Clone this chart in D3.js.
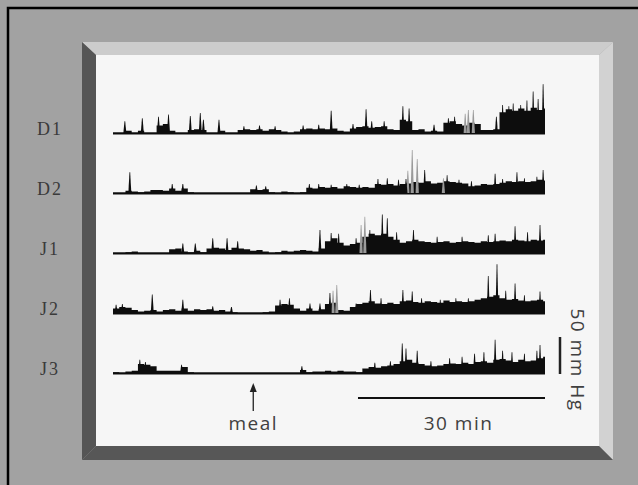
<!DOCTYPE html>
<html lang="en">
  <head>
    <meta charset="utf-8">
    <title>Manometry traces</title>
    <script src="https://d3js.org/d3.v7.min.js"></script>
    <style>
      body { margin: 0; background: #a2a2a2; }
      .lbl { font-family: "Liberation Serif", serif; font-size: 18px; fill: #3a3a3a; letter-spacing: 2px; }
      .note { font-family: "Open Sans", sans-serif; font-size: 19px; fill: #404040; letter-spacing: 1.5px; }
    </style>
  </head>
  <body>
    <svg id="chart" width="638" height="485"></svg>
<script>

// channels, top to bottom
var channels = ["D1", "D2", "J1", "J2", "J3"];

// recording length (min), meal time (min), scale bars
var totalMin = 69.3;
var mealMin = 22.5;
var timeBarMin = 30;
var pressBarMmHg = 50;

// dense activity envelope, mm Hg, one value per minute (0..69)
var D1_band = [0,0,3,0,3,0,0,10,12,3,0,0,4,5,4,0,0,3,0,0,4,5,4,5,3,5,4,2,0,2,5,6,5,6,5,6,3,2,6,8,9,7,8,9,5,4,18,16,4,5,2,3,2,14,16,12,10,14,12,4,4,5,28,32,30,33,30,34,31,33];
var D2_band = [0,0,3,2,1,2,4,4,3,6,3,6,1,0,0,0,0,0,0,0,0,0,5,4,5,1,0,2,1,0,1,7,6,8,7,8,6,9,8,7,8,7,12,11,12,10,12,13,15,14,16,13,14,16,15,14,13,9,10,12,11,12,14,16,15,16,15,16,18,17];
var J1_band = [0,0,1,2,0,0,0,0,0,5,6,2,1,3,1,6,7,6,4,7,6,5,3,4,2,0,1,3,2,3,4,3,2,6,16,20,14,10,12,14,22,26,24,26,22,18,14,16,18,16,15,14,15,16,14,15,16,15,14,16,15,16,17,16,18,17,16,18,17,18];
var J2_band = [6,8,7,4,2,3,4,2,4,5,3,6,3,5,4,5,3,4,2,1,0,0,0,0,1,2,10,12,11,6,3,6,3,5,12,14,4,3,8,12,14,16,13,12,14,12,16,17,15,14,16,15,14,17,15,16,15,16,18,20,22,24,20,18,19,17,16,17,18,16];
var J3_band = [1,0,2,3,12,11,9,3,3,3,3,8,1,0,0,0,0,0,0,0,0,0,0,0,0,0,0,0,0,0,4,1,2,2,3,2,3,2,2,1,6,8,7,9,10,12,16,18,14,12,10,9,10,12,13,12,14,12,15,16,14,18,19,17,15,18,16,17,20,22];

// single contractions [minute, mm Hg]
var D1_peaks = [[1.9,16],[4.7,20],[7.3,22],[8.9,25],[12.4,23],[14,27],[14.5,18],[17,18],[21,9],[23.5,10],[26,9],[30.5,10],[33,11],[35,30],[38.5,12],[40.6,32],[41.5,16],[43.5,16],[46.5,36],[47.5,33],[51.5,11],[53.8,20],[54.8,22],[61.5,22],[62.5,38],[63.5,36],[64.2,40],[65.4,38],[66.4,44],[67.4,56],[68.2,46],[69,66]];
var D2_peaks = [[2.7,28],[9.5,12],[11.2,12],[23,10],[24.5,9],[31.5,12],[33,12],[35,11],[37.5,12],[39.5,11],[42.5,19],[44,20],[45.8,18],[47,19],[50,31],[53.6,24],[55.5,18],[57.5,16],[61.3,26],[62.5,19],[64.8,28],[66,20],[68,22],[69,31]];
var J1_peaks = [[11.2,13],[13.2,13],[16,20],[18.3,20],[20,16],[33.2,31],[35,27],[36.2,26],[39,20],[41.2,31],[43.2,52],[44,47],[45.5,28],[48.2,31],[52,22],[56,22],[60.2,24],[61.3,26],[64.5,36],[66.5,28],[68.5,38]];
var J2_peaks = [[0.5,11],[1.5,12],[6.3,25],[11.2,18],[16,9],[19,8],[26.8,18],[28.3,20],[31.6,13],[33.2,13],[34.8,27],[39,13],[41.3,31],[43,20],[46.5,31],[48,29],[49.5,20],[52.5,18],[55,20],[57,20],[60.2,50],[61.6,66],[63,30],[64.5,40],[66,24],[68.5,29]];
var J3_peaks = [[4.3,18],[5.2,15],[11,11],[30.3,9],[42,14],[44.5,16],[46.4,40],[47,33],[48.8,30],[51,16],[54,20],[56,22],[58,26],[59.5,28],[61.3,45],[62.5,30],[64,28],[66,26],[68,30],[68.5,38]];

// lighter (grey) contractions [minute, mm Hg]
var D1_grey = [[56.5,26],[57,31],[57.8,31]];
var D2_grey = [[47.3,30],[48,58],[48.8,46],[53,20]];
var J1_grey = [[39.8,38],[40.4,49]];
var J2_grey = [[35.3,30],[35.9,38]];
var J3_grey = [];

var bands = { D1: D1_band, D2: D2_band, J1: J1_band, J2: J2_band, J3: J3_band };
var peaks = { D1: D1_peaks, D2: D2_peaks, J1: J1_peaks, J2: J2_peaks, J3: J3_peaks };
var greys = { D1: D1_grey, D2: D2_grey, J1: J1_grey, J2: J2_grey, J3: J3_grey };

var svg = d3.select("#chart");

// background + black frame on top/left
svg.append("rect").attr("width", 638).attr("height", 485).attr("fill", "#a2a2a2");
svg.append("path").attr("d", "M8,485V8H638").attr("fill", "none").attr("stroke", "#000").attr("stroke-width", 2.5);

// bevelled panel
var o = { x0: 82, y0: 42, x1: 613, y1: 460 },
    i = { x0: 96, y0: 55, x1: 599, y1: 446 };
var bevel = [
  { c: "#cccccc", p: [[o.x0,o.y0],[o.x1,o.y0],[i.x1,i.y0],[i.x0,i.y0]] },
  { c: "#d2d2d2", p: [[o.x1,o.y0],[o.x1,o.y1],[i.x1,i.y1],[i.x1,i.y0]] },
  { c: "#575757", p: [[o.x0,o.y1],[o.x1,o.y1],[i.x1,i.y1],[i.x0,i.y1]] },
  { c: "#555555", p: [[o.x0,o.y0],[i.x0,i.y0],[i.x0,i.y1],[o.x0,o.y1]] }
];
svg.selectAll(".bevel").data(bevel).enter().append("polygon")
  .attr("class", "bevel")
  .attr("points", function (d) { return d.p.map(function (q) { return q.join(","); }).join(" "); })
  .attr("fill", function (d) { return d.c; });
svg.append("rect").attr("x", i.x0).attr("y", i.y0).attr("width", i.x1 - i.x0).attr("height", i.y1 - i.y0).attr("fill", "#f6f6f6");

// scales
var x = d3.scaleLinear().domain([0, totalMin]).range([113, 545]);
var yBase = d3.scalePoint().domain(channels).range([133, 373]);
var h = d3.scaleLinear().domain([0, 50]).range([0, 37]);

var defs = svg.append("defs");
defs.append("filter").attr("id", "soft")
  .append("feGaussianBlur").attr("stdDeviation", 0.45);

var traces = svg.append("g").attr("filter", "url(#soft)");

function spike(b, d, w) {
  var cx = x(d[0]), top = b - h(d[1]);
  return "M" + (cx - w) + "," + b + "L" + (cx - 0.35) + "," + top + "L" + (cx + 0.35) + "," + top + "L" + (cx + w) + "," + b + "Z";
}

channels.forEach(function (ch) {
  var b = yBase(ch);
  var g = traces.append("g");

  // baseline
  g.append("line")
    .attr("x1", x(0)).attr("x2", x(totalMin))
    .attr("y1", b).attr("y2", b)
    .attr("stroke", "#111").attr("stroke-width", 1.3);

  // dense activity
  var pts = bands[ch].map(function (v, k) { return [k, v]; });
  pts.push([totalMin, bands[ch][bands[ch].length - 1]]);
  var area = d3.area()
    .x(function (d) { return x(d[0]); })
    .y0(b + 1.5)
    .y1(function (d) { return b - h(d[1]); })
    .curve(d3.curveStepAfter);
  g.append("path").datum(pts).attr("d", area).attr("fill", "#111");

  // grey spikes then black spikes
  g.selectAll(".grey").data(greys[ch]).enter().append("path")
    .attr("class", "grey")
    .attr("d", function (d) { return spike(b, d, 1.6); })
    .attr("fill", "#9a9a9a");
  g.selectAll(".pk").data(peaks[ch]).enter().append("path")
    .attr("class", "pk")
    .attr("d", function (d) { return spike(b, d, 1.5); })
    .attr("fill", "#111");
});

// channel labels
svg.selectAll(".lbl").data(channels).enter().append("text")
  .attr("class", "lbl")
  .attr("x", 50)
  .attr("y", function (d) { return yBase(d) - 2; })
  .attr("text-anchor", "middle")
  .attr("dominant-baseline", "middle")
  .text(function (d) { return d; });

// meal arrow
var mx = x(mealMin);
svg.append("line").attr("x1", mx).attr("x2", mx).attr("y1", 411).attr("y2", 389)
  .attr("stroke", "#222").attr("stroke-width", 1.3);
svg.append("path").attr("d", "M" + mx + ",383L" + (mx - 3.5) + ",392L" + (mx + 3.5) + ",392Z").attr("fill", "#222");
svg.append("text").attr("class", "note").attr("x", mx).attr("y", 430)
  .attr("text-anchor", "middle").text("meal");

// 30 min bar
var t0 = x(totalMin - timeBarMin), t1 = x(totalMin);
svg.append("line").attr("x1", t0).attr("x2", t1).attr("y1", 398).attr("y2", 398)
  .attr("stroke", "#111").attr("stroke-width", 2);
svg.append("text").attr("class", "note").attr("x", (t0 + t1) / 2 + 7).attr("y", 430)
  .attr("text-anchor", "middle").text("30 min");

// 50 mm Hg bar
var pb = yBase("J3");
svg.append("line").attr("x1", 560).attr("x2", 560).attr("y1", pb + 1).attr("y2", pb + 1 - h(pressBarMmHg))
  .attr("stroke", "#222").attr("stroke-width", 2.5);
svg.append("text").attr("class", "note")
  .attr("transform", "translate(571,360) rotate(90)")
  .attr("text-anchor", "middle")
  .text("50 mm Hg");

</script>
  </body>
</html>
